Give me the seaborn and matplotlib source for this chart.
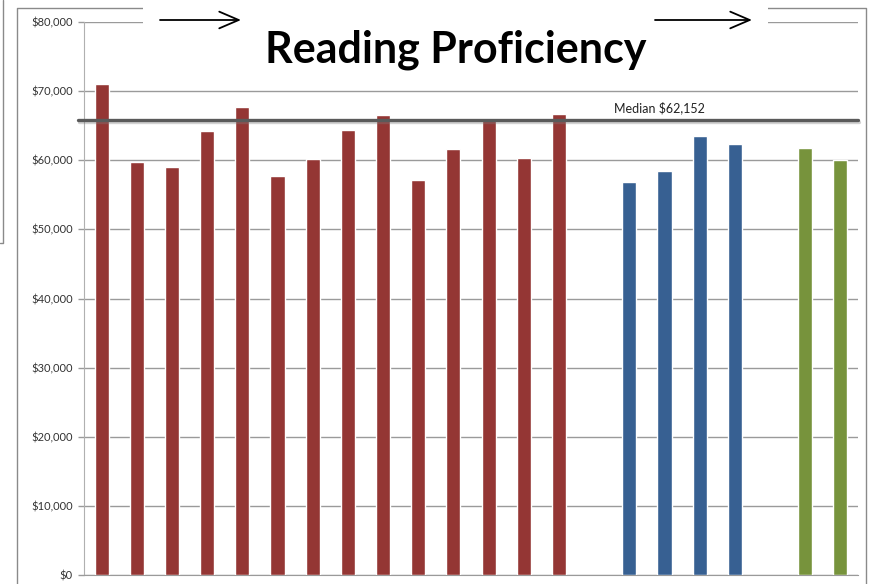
import matplotlib
matplotlib.use("Agg")
import matplotlib.pyplot as plt
import seaborn as sns
import pandas as pd
from matplotlib.patches import Rectangle, FancyArrowPatch
from matplotlib.lines import Line2D
import matplotlib.patheffects as pe
from matplotlib.ticker import FuncFormatter

# ---- data ----
red_labels = [f"R{i}" for i in range(1, 15)]
red_values = [71010, 59750, 59080, 64270, 67690, 57690, 60140,
              64420, 66490, 57160, 61590, 65800, 60330, 66680]
blue_labels = ["B1", "B2", "B3", "B4"]
blue_values = [56870, 58410, 63460, 62350]
green_labels = ["G1", "G2"]
green_values = [61820, 60000]
gap_labels = [" ", "  "]
median_line_value = 65770
median_label = "Median $62,152"
title = "Reading Proficiency"
y_ticks = list(range(0, 80001, 10000))

colors = {"red": "#943634", "blue": "#376092", "green": "#77933C"}

df = pd.DataFrame({
    "slot": red_labels + blue_labels + green_labels,
    "value": red_values + blue_values + green_values,
    "group": ["red"] * len(red_labels) + ["blue"] * len(blue_labels) + ["green"] * len(green_labels),
})
order = red_labels + [gap_labels[0]] + blue_labels + [gap_labels[1]] + green_labels

# ---- figure ----
sns.set_style("white")
plt.rcParams["font.family"] = ["Lato", "DejaVu Sans"]

W, H = 878, 584
fig = plt.figure(figsize=(W / 100, H / 100), dpi=100)
ax = fig.add_axes([84 / W, (H - 575) / H, (858 - 84) / W, (575 - 22) / H])

sns.barplot(data=df, x="slot", y="value", hue="group", order=order,
            palette=colors, dodge=False, width=0.4, saturation=1,
            errorbar=None, legend=False, ax=ax, zorder=3)

ax.set_ylim(0, 80000)
ax.set_xlim(-0.5, len(order) - 0.5)
ax.set_yticks(y_ticks)
ax.yaxis.set_major_formatter(FuncFormatter(lambda v, p: f"${v:,.0f}"))
ax.set_xlabel("")
ax.set_ylabel("")
ax.set_xticks([])
ax.grid(axis="y", color="#9a9a9a", lw=1, zorder=0)
ax.set_axisbelow(True)
for s in ["top", "right"]:
    ax.spines[s].set_visible(False)
ax.spines["left"].set_color("#b0b0b0")
ax.spines["bottom"].set_color("#9a9a9a")
ax.tick_params(axis="y", length=4, width=1, color="#9a9a9a", pad=4,
               labelsize=8, labelcolor="#333333", left=True)

# median line
ax.plot([-0.008, 1.0], [median_line_value] * 2, transform=ax.get_yaxis_transform(),
        color="#5a5a5a", lw=2.4, clip_on=False, zorder=4,
        path_effects=[pe.SimpleLineShadow(offset=(0.5, -1.5), shadow_color="gray", alpha=0.35),
                      pe.Normal()])
ax.text(0.743, 67550, median_label, transform=ax.get_yaxis_transform(),
        ha="center", va="center", fontsize=9, color="#222222", zorder=5)

# outer frames
frame_c = "#8a8a8a"
def fline(xs, ys, z=1):
    fig.add_artist(Line2D([x / W for x in xs], [1 - y / H for y in ys],
                          transform=fig.transFigure, color=frame_c, lw=1, zorder=z))
fline([17, 17, 866, 866], [H, 8, 8, H])
fline([3, 3, 0], [0, 243, 243])

# white title box
fig.add_artist(Rectangle((143 / W, 1 - 75 / H), (768 - 143) / W, 75 / H,
                         transform=fig.transFigure, facecolor="white",
                         edgecolor="none", zorder=5))
fig.text(456 / W, 1 - 63 / H, title, ha="center", va="baseline",
         fontsize=31, fontweight="bold", color="black", zorder=6)

# arrows
for x0, x1 in [(160, 241), (655, 752)]:
    fig.add_artist(FancyArrowPatch(
        (x0 / W, 1 - 20 / H), (x1 / W, 1 - 20 / H), transform=fig.transFigure,
        arrowstyle="->,head_length=14,head_width=6", color="black", lw=1.3,
        mutation_scale=1, shrinkA=0, shrinkB=0, zorder=7))

fig.savefig("out.png", dpi=100)
